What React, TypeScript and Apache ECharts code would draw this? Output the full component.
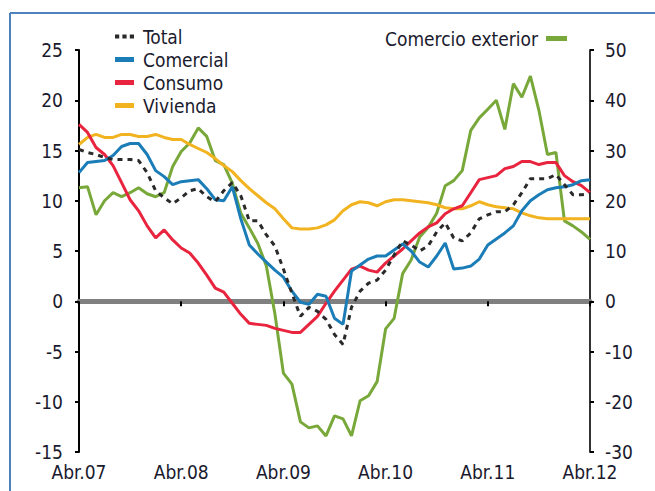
import React, { useEffect, useRef } from "react";
import * as echarts from "echarts";

const monthNames = ["Abr", "May", "Jun", "Jul", "Ago", "Sep", "Oct", "Nov", "Dic", "Ene", "Feb", "Mar"];
const months: string[] = [];
for (let i = 0; i <= 60; i++) {
  const yy = 7 + Math.floor((i + 3) / 12);
  months.push(monthNames[i % 12] + "." + (yy < 10 ? "0" + yy : "" + yy));
}

const total = [15.1,14.8,14.6,14.3,14.1,14.1,14.1,14.0,12.8,11.0, 10.3,9.7,10.3,11.0,11.2,10.4,9.9,11.0,11.8,10.5, 8.0,8.0,6.6,5.5,3.2,0.8,-1.5,-0.6,-1.0,-1.8, -3.3,-4.3,-0.6,1.0,1.8,2.1,3.1,4.6,6.0,5.6, 5.0,5.5,6.9,7.8,6.3,6.0,6.8,8.2,8.6,8.9, 8.9,9.6,10.8,12.2,12.2,12.2,12.6,11.6,10.6,10.6, 10.7];
const comercial = [12.8,13.8,13.9,14.0,14.5,15.4,15.7,15.7,14.6,13.0, 12.4,11.6,11.9,12.0,12.1,11.2,10.1,10.0,11.4,8.2, 5.6,4.7,3.9,3.1,2.4,1.0,-0.1,-0.3,0.7,0.5, -1.7,-2.3,3.0,3.6,4.2,4.5,4.5,5.1,5.7,5.0, 3.9,3.4,4.5,5.8,3.2,3.3,3.5,4.2,5.6,6.2, 6.8,7.5,9.0,10.0,10.6,11.1,11.3,11.4,11.6,12.0, 12.1];
const consumo = [17.6,16.8,15.3,14.6,13.5,11.8,10.1,9.0,7.5,6.3, 7.1,6.1,5.3,4.8,3.8,2.6,1.3,0.9,-0.2,-1.3, -2.2,-2.3,-2.4,-2.7,-2.9,-3.1,-3.1,-2.3,-1.5,-0.2, 1.0,2.1,3.2,3.5,3.1,2.9,3.8,4.5,5.2,6.0, 6.8,7.4,7.8,8.7,9.2,9.5,10.8,12.1,12.3,12.5, 13.2,13.4,13.9,13.9,13.6,13.8,13.8,12.5,11.9,11.5, 10.8];
const vivienda = [15.6,16.3,16.6,16.3,16.3,16.6,16.6,16.4,16.4,16.6, 16.3,16.1,16.1,15.6,15.2,14.8,14.2,13.5,12.9,12.0, 11.2,10.5,9.8,9.2,8.2,7.3,7.2,7.2,7.3,7.6, 8.1,9.0,9.6,9.9,9.8,9.5,9.9,10.1,10.1,10.0, 9.9,9.8,9.6,9.3,9.2,9.2,9.5,9.9,9.6,9.4, 9.3,9.2,8.8,8.5,8.3,8.2,8.2,8.2,8.2,8.2, 8.2];
const comercioExterior = [22.6,22.8,17.2,20.0,21.6,20.8,21.6,22.6,21.4,20.8, 21.6,26.8,29.8,31.5,34.5,32.8,28.0,27.2,23.5,17.5, 14.6,11.5,7.0,-2.5,-14.3,-16.5,-24.0,-25.2,-24.8,-26.8, -22.8,-23.4,-26.8,-19.8,-18.8,-16.0,-5.5,-3.4,5.5,8.2, 12.8,14.7,17.5,23.0,24.0,26.0,34.0,36.5,38.2,40.0, 34.2,43.3,40.6,44.8,38.0,29.2,29.6,16.0,15.0,13.8, 12.3];

const FONT = "'DejaVu Sans Condensed', 'Liberation Sans', Arial, sans-serif";
const TXT = "#1a1a2e";
const DOTS_ICON = "path://M0,0h4v4h-4z M7,0h4v4h-4z M14,0h4v4h-4z";

export default function App() {
  const ref = useRef<HTMLDivElement>(null);
  useEffect(() => {
    if (!ref.current) return;
    const chart = echarts.init(ref.current, undefined, { renderer: "svg" });
    const lineSeries = (name: string, data: number[], color: string, extra: any = {}) => ({
      name,
      type: "line",
      data,
      symbol: "none",
      xAxisIndex: 0,
      yAxisIndex: extra.yAxisIndex ?? 0,
      lineStyle: { color, width: 3, ...(extra.lineStyle || {}) },
      itemStyle: { color },
      z: extra.z ?? 3,
    });
    chart.setOption({
      animation: false,
      backgroundColor: "#ffffff",
      textStyle: { fontFamily: FONT },
      grid: { left: 79, right: 65, top: 50, bottom: 39, containLabel: false },
      legend: [
        {
          data: [
            { name: "Total", icon: DOTS_ICON },
            { name: "Comercial", icon: "rect" },
            { name: "Consumo", icon: "rect" },
            { name: "Vivienda", icon: "rect" },
          ],
          orient: "vertical",
          left: 110,
          top: 20,
          itemWidth: 19,
          itemHeight: 5,
          itemGap: 0,
          textStyle: { fontFamily: FONT, fontSize: 19, color: TXT, lineHeight: 23, padding: [0, 0, 0, 4] },
        },
        {
          data: [{ name: "Comercio exterior", icon: "rect" }],
          left: 380,
          top: 22,
          align: "right",
          itemWidth: 21,
          itemHeight: 5,
          textStyle: { fontFamily: FONT, fontSize: 19, color: TXT, lineHeight: 23, padding: [0, 3, 0, 0] },
        },
      ],
      xAxis: [
        {
          type: "category",
          data: months,
          boundaryGap: false,
          axisLine: { show: false, onZero: false },
          axisTick: { show: false },
          axisLabel: {
            interval: 11,
            fontSize: 19,
            lineHeight: 19,
            color: TXT,
            margin: 10,
            fontFamily: FONT,
          },
          splitLine: { show: false },
        },
        {
          type: "category",
          data: months,
          boundaryGap: false,
          position: "bottom",
          axisLine: { show: true, onZero: true, onZeroAxisIndex: 0, lineStyle: { color: "#808080", width: 5 } },
          axisTick: { show: true, interval: 11, length: 5, lineStyle: { color: "#000", width: 2 } },
          axisLabel: { show: false },
          splitLine: { show: false },
        },
      ],
      yAxis: [
        {
          type: "value",
          min: -15,
          max: 25,
          interval: 5,
          position: "left",
          axisLine: { show: true, onZero: false, lineStyle: { color: "#000", width: 2 } },
          axisTick: { show: true, length: 4, lineStyle: { color: "#000", width: 2 } },
          axisLabel: { fontSize: 19, lineHeight: 17, color: TXT, margin: 16, fontFamily: FONT },
          splitLine: { show: false },
        },
        {
          type: "value",
          min: -30,
          max: 50,
          interval: 10,
          position: "right",
          axisLine: { show: true, onZero: false, lineStyle: { color: "#333", width: 2 } },
          axisTick: { show: true, length: 4, lineStyle: { color: "#000", width: 2 } },
          axisLabel: { fontSize: 19, lineHeight: 17, color: TXT, margin: 15, fontFamily: FONT },
          splitLine: { show: false },
        },
      ],
      series: [
        lineSeries("Comercio exterior", comercioExterior, "#79A83A", { yAxisIndex: 1, z: 2 }),
        lineSeries("Vivienda", vivienda, "#F2B320"),
        lineSeries("Consumo", consumo, "#E8243E"),
        lineSeries("Comercial", comercial, "#1B7DB8"),
        lineSeries("Total", total, "#2a2a2a", { lineStyle: { type: [5, 5], width: 3 }, z: 4 }),
      ],
      graphic: [
        { type: "line", shape: { x1: 10, y1: 13, x2: 655, y2: 13 }, style: { stroke: "#4F81BD", lineWidth: 2 } },
        { type: "line", shape: { x1: 10, y1: 13, x2: 10, y2: 491 }, style: { stroke: "#4F81BD", lineWidth: 2 } },
      ],
    });
    return () => chart.dispose();
  }, []);
  return <div ref={ref} style={{ width: 655, height: 491, position: "fixed", left: 0, top: 0 }} />;
}
